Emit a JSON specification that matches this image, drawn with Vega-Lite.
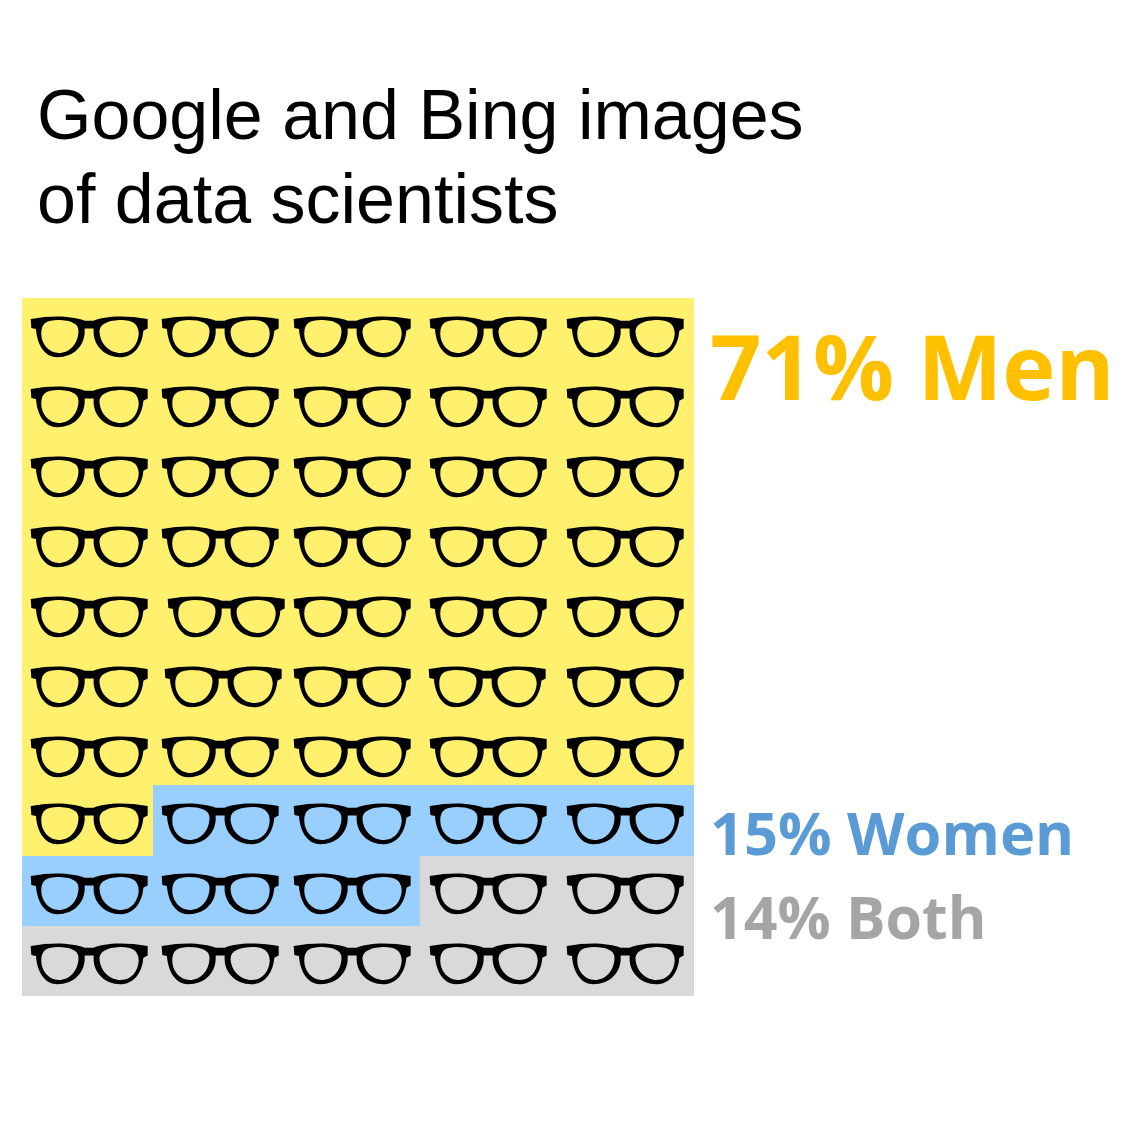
{
"$schema":"https://vega.github.io/schema/vega-lite/v6.json",
"width":672,"height":698,
"autosize":"none",
"padding":{"left":22,"top":298,"right":428,"bottom":129},
"background":"white",
"view":{"stroke":null},
"title":{"text":["Google and Bing images","of data scientists"],"anchor":"start","frame":"group","align":"left","dx":15,"offset":60,"font":"Liberation Sans","fontSize":70,"fontWeight":"normal","lineHeight":84,"color":"#000000"},
"datasets":{
"cells":[
{"g":"Men","x":0.496,"y":0.554,"x0":0,"x1":0.975,"y0":0,"y1":1},{"g":"Men","x":1.473,"y":0.554,"x0":0.975,"x1":1.97,"y0":0,"y1":1},{"g":"Men","x":2.453,"y":0.554,"x0":1.97,"x1":2.961,"y0":0,"y1":1},{"g":"Men","x":3.467,"y":0.554,"x0":2.961,"x1":3.98,"y0":0,"y1":1},{"g":"Men","x":4.487,"y":0.554,"x0":3.98,"x1":5,"y0":0,"y1":1},
{"g":"Men","x":0.496,"y":1.557,"x0":0,"x1":0.975,"y0":1,"y1":2},{"g":"Men","x":1.473,"y":1.557,"x0":0.975,"x1":1.97,"y0":1,"y1":2},{"g":"Men","x":2.453,"y":1.557,"x0":1.97,"x1":2.961,"y0":1,"y1":2},{"g":"Men","x":3.467,"y":1.557,"x0":2.961,"x1":3.98,"y0":1,"y1":2},{"g":"Men","x":4.487,"y":1.557,"x0":3.98,"x1":5,"y0":1,"y1":2},
{"g":"Men","x":0.496,"y":2.56,"x0":0,"x1":0.975,"y0":2,"y1":3},{"g":"Men","x":1.473,"y":2.56,"x0":0.975,"x1":1.97,"y0":2,"y1":3},{"g":"Men","x":2.453,"y":2.56,"x0":1.97,"x1":2.961,"y0":2,"y1":3},{"g":"Men","x":3.467,"y":2.56,"x0":2.961,"x1":3.98,"y0":2,"y1":3},{"g":"Men","x":4.487,"y":2.56,"x0":3.98,"x1":5,"y0":2,"y1":3},
{"g":"Men","x":0.496,"y":3.563,"x0":0,"x1":0.975,"y0":3,"y1":4},{"g":"Men","x":1.473,"y":3.563,"x0":0.975,"x1":1.97,"y0":3,"y1":4},{"g":"Men","x":2.453,"y":3.563,"x0":1.97,"x1":2.961,"y0":3,"y1":4},{"g":"Men","x":3.467,"y":3.563,"x0":2.961,"x1":3.98,"y0":3,"y1":4},{"g":"Men","x":4.487,"y":3.563,"x0":3.98,"x1":5,"y0":3,"y1":4},
{"g":"Men","x":0.496,"y":4.566,"x0":0,"x1":0.975,"y0":4,"y1":5},{"g":"Men","x":1.518,"y":4.566,"x0":0.975,"x1":1.97,"y0":4,"y1":5},{"g":"Men","x":2.453,"y":4.566,"x0":1.97,"x1":2.961,"y0":4,"y1":5},{"g":"Men","x":3.467,"y":4.566,"x0":2.961,"x1":3.98,"y0":4,"y1":5},{"g":"Men","x":4.487,"y":4.566,"x0":3.98,"x1":5,"y0":4,"y1":5},
{"g":"Men","x":0.496,"y":5.569,"x0":0,"x1":0.975,"y0":5,"y1":6},{"g":"Men","x":1.496,"y":5.569,"x0":0.975,"x1":1.97,"y0":5,"y1":6},{"g":"Men","x":2.453,"y":5.569,"x0":1.97,"x1":2.961,"y0":5,"y1":6},{"g":"Men","x":3.46,"y":5.569,"x0":2.961,"x1":3.98,"y0":5,"y1":6},{"g":"Men","x":4.487,"y":5.569,"x0":3.98,"x1":5,"y0":5,"y1":6},
{"g":"Men","x":0.496,"y":6.572,"x0":0,"x1":0.975,"y0":6,"y1":6.977},{"g":"Men","x":1.473,"y":6.572,"x0":0.975,"x1":1.97,"y0":6,"y1":6.977},{"g":"Men","x":2.453,"y":6.572,"x0":1.97,"x1":2.961,"y0":6,"y1":6.977},{"g":"Men","x":3.467,"y":6.572,"x0":2.961,"x1":3.98,"y0":6,"y1":6.977},{"g":"Men","x":4.487,"y":6.572,"x0":3.98,"x1":5,"y0":6,"y1":6.977},
{"g":"Men","x":0.496,"y":7.529,"x0":0,"x1":0.975,"y0":6.977,"y1":7.994},{"g":"Women","x":1.473,"y":7.529,"x0":0.975,"x1":1.97,"y0":6.977,"y1":7.994},{"g":"Women","x":2.453,"y":7.529,"x0":1.97,"x1":2.961,"y0":6.977,"y1":7.994},{"g":"Women","x":3.467,"y":7.529,"x0":2.961,"x1":3.98,"y0":6.977,"y1":7.994},{"g":"Women","x":4.487,"y":7.529,"x0":3.98,"x1":5,"y0":6.977,"y1":7.994},
{"g":"Women","x":0.496,"y":8.532,"x0":0,"x1":0.975,"y0":7.994,"y1":8.997},{"g":"Women","x":1.473,"y":8.532,"x0":0.975,"x1":1.97,"y0":7.994,"y1":8.997},{"g":"Women","x":2.453,"y":8.532,"x0":1.97,"x1":2.961,"y0":7.994,"y1":8.997},{"g":"Both","x":3.467,"y":8.532,"x0":2.961,"x1":3.98,"y0":7.994,"y1":8.997},{"g":"Both","x":4.487,"y":8.532,"x0":3.98,"x1":5,"y0":7.994,"y1":8.997},
{"g":"Both","x":0.496,"y":9.535,"x0":0,"x1":0.975,"y0":8.997,"y1":10},{"g":"Both","x":1.473,"y":9.535,"x0":0.975,"x1":1.97,"y0":8.997,"y1":10},{"g":"Both","x":2.453,"y":9.535,"x0":1.97,"x1":2.961,"y0":8.997,"y1":10},{"g":"Both","x":3.467,"y":9.535,"x0":2.961,"x1":3.98,"y0":8.997,"y1":10},{"g":"Both","x":4.487,"y":9.535,"x0":3.98,"x1":5,"y0":8.997,"y1":10}
],
"labels":[
{"g":"Men","label":"71% Men","x":5.119,"y":1.461},
{"g":"Women","label":"15% Women","x":5.119,"y":7.98},
{"g":"Both","label":"14% Both","x":5.119,"y":9.18}
]
},
"resolve":{"scale":{"color":"independent"}},
"layer":[
{"data":{"name":"cells"},"mark":{"type":"rect","strokeWidth":0},
"encoding":{
"x":{"field":"x0","type":"quantitative","axis":null,"scale":{"domain":[0,5],"round":true,"nice":false,"zero":false}},
"x2":{"field":"x1"},
"y":{"field":"y0","type":"quantitative","axis":null,"scale":{"domain":[0,10],"reverse":true,"round":true,"nice":false,"zero":false}},
"y2":{"field":"y1"},
"color":{"field":"g","type":"nominal","legend":null,"scale":{"domain":["Men","Women","Both"],"range":["#FFF16E","#99CFFF","#D9D9D9"]}}
}},
{"data":{"name":"cells"},"mark":{"type":"point","filled":true,"opacity":1,"fill":"#000000","strokeWidth":0,"size":13689,
"shape":"M-0.997 -0.306C-0.827 -0.34 -0.686 -0.351 -0.544 -0.351C-0.374 -0.351 -0.176 -0.323 -0.074 -0.278L0.079 -0.278C0.176 -0.323 0.34 -0.351 0.533 -0.351C0.674 -0.351 0.844 -0.34 1.003 -0.306L1.003 -0.147L0.929 -0.108C0.907 0.159 0.759 0.346 0.533 0.346C0.278 0.346 0.091 0.159 0.079 -0.068L0.079 -0.147L-0.074 -0.147L-0.074 -0.068C-0.091 0.159 -0.26 0.346 -0.544 0.346C-0.742 0.346 -0.884 0.159 -0.907 -0.136L-0.986 -0.153ZM-0.816 -0.057C-0.816 0.119 -0.686 0.272 -0.516 0.272C-0.329 0.272 -0.193 0.113 -0.181 -0.079C-0.159 -0.227 -0.317 -0.289 -0.533 -0.289C-0.714 -0.289 -0.816 -0.238 -0.816 -0.057ZM0.181 -0.079C0.193 0.113 0.351 0.272 0.544 0.272C0.731 0.272 0.839 0.119 0.85 -0.057C0.85 -0.238 0.714 -0.289 0.561 -0.289C0.351 -0.289 0.17 -0.227 0.181 -0.079Z"},
"encoding":{
"x":{"field":"x","type":"quantitative"},
"y":{"field":"y","type":"quantitative"}
}},
{"data":{"name":"labels"},"mark":{"type":"text","align":"left","baseline":"alphabetic","font":"Open Sans","fontWeight":"bold"},
"encoding":{
"x":{"field":"x","type":"quantitative"},
"y":{"field":"y","type":"quantitative"},
"text":{"field":"label"},
"size":{"field":"g","type":"nominal","legend":null,"scale":{"type":"ordinal","domain":["Men","Women","Both"],"range":[90,59.5,59]}},
"color":{"field":"g","type":"nominal","legend":null,"scale":{"domain":["Men","Women","Both"],"range":["#FFC000","#5B9BD5","#A5A5A5"]}}
}}
]
}
